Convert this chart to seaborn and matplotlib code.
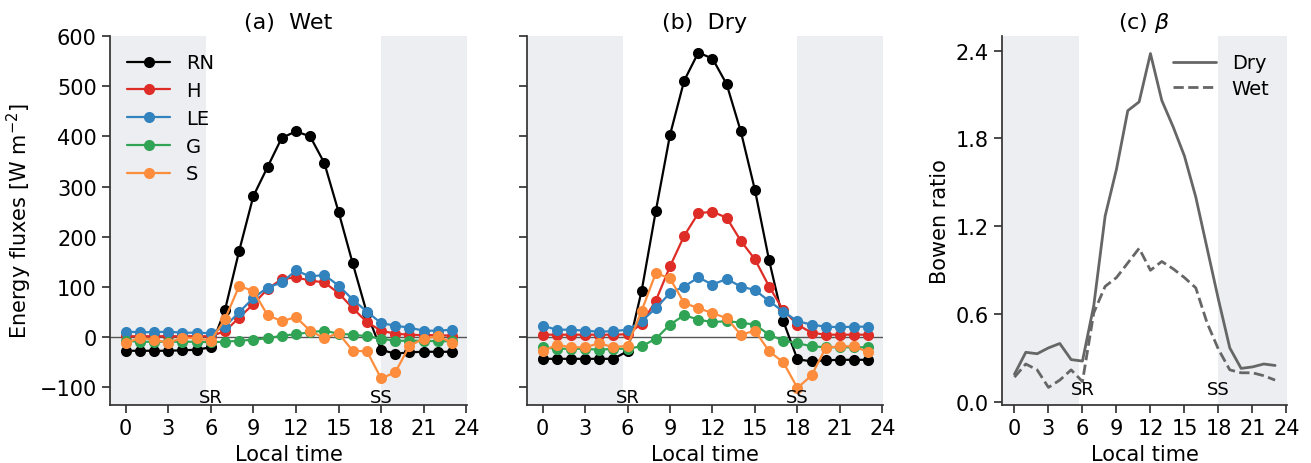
import matplotlib
matplotlib.use('Agg')
import matplotlib.pyplot as plt
import seaborn as sns
import numpy as np
import pandas as pd

# hourly data
hours = list(range(24))

wet_RN = [-27, -27, -27, -27, -26, -25, -20, 54, 172, 281, 339, 397, 410, 400, 347, 250, 147, 48, -25, -33, -30, -29, -29, -29]
wet_H = [2, 2, 2, 2, 2, 2, 2, 12, 39, 66, 96, 116, 119, 113, 109, 88, 58, 30, 13, 7, 5, 4, 4, 3]
wet_LE = [11, 10, 10, 11, 9, 9, 8, 21, 50, 78, 99, 109, 133, 121, 124, 103, 75, 51, 28, 23, 19, 13, 13, 15]
wet_G = [-7, -9, -9, -9, -9, -9, -10, -9, -7, -5, -2, 3, 6, 10, 13, 7, 5, 2, -3, -7, -7, -7, -8, -8]
wet_S = [-12, -1, -5, -11, -1, -2, -7, 36, 102, 92, 44, 32, 40, 13, -2, 8, -27, -28, -82, -70, -17, -3, 2, -11]

dry_RN = [-43, -43, -43, -43, -43, -43, -28, 93, 252, 403, 511, 567, 555, 504, 410, 293, 153, 32, -44, -48, -46, -45, -45, -45]
dry_H = [5, 5, 5, 5, 5, 5, 6, 27, 73, 141, 202, 247, 250, 238, 192, 155, 101, 54, 25, 9, 5, 5, 5, 5]
dry_LE = [23, 15, 15, 13, 11, 12, 15, 32, 58, 88, 101, 119, 105, 116, 101, 94, 72, 51, 32, 25, 21, 20, 21, 21]
dry_G = [-20, -23, -23, -23, -25, -23, -23, -18, -3, 25, 44, 35, 30, 32, 29, 25, 5, -7, -12, -18, -20, -20, -20, -20]
dry_S = [-28, -15, -20, -20, -12, -20, -17, 53, 128, 117, 68, 58, 48, 38, 5, 13, -28, -50, -101, -76, -21, -18, -18, -30]

bowen_dry = [0.19, 0.34, 0.33, 0.37, 0.40, 0.29, 0.28, 0.66, 1.27, 1.59, 1.99, 2.05, 2.38, 2.06, 1.88, 1.68, 1.40, 1.05, 0.70, 0.37, 0.23, 0.24, 0.26, 0.25]
bowen_wet = [0.17, 0.26, 0.22, 0.10, 0.15, 0.22, 0.14, 0.61, 0.79, 0.85, 0.95, 1.05, 0.90, 0.96, 0.91, 0.85, 0.78, 0.54, 0.36, 0.22, 0.20, 0.20, 0.18, 0.15]

flux_names = ['RN', 'H', 'LE', 'G', 'S']
flux_colors = ['black', '#de2d26', '#3182bd', '#31a354', '#fd8d3c']
sunrise, sunset = 5.67, 18.0

sns.set_theme(style='ticks')
plt.rcParams['font.family'] = ['DejaVu Sans']
plt.rcParams['mathtext.fontset'] = 'dejavusans'
plt.rcParams['axes.unicode_minus'] = True
# plain black text like the original
for key in ['text.color', 'axes.labelcolor', 'xtick.labelcolor', 'ytick.labelcolor']:
    plt.rcParams[key] = 'black'
plt.rcParams['axes.edgecolor'] = '#333333'
plt.rcParams['xtick.color'] = '#333333'
plt.rcParams['ytick.color'] = '#333333'
fs_label, fs_tick, fs_title, fs_leg = 15, 15, 16, 14


def long_df(series):
    rows = []
    for name, vals in zip(flux_names, series):
        for h, v in zip(hours, vals):
            rows.append({'hour': h, 'flux': v, 'var': name})
    return pd.DataFrame(rows)


def shade(ax):
    ax.axvspan(-2, sunrise, color='#eceef1', zorder=0, lw=0)
    ax.axvspan(sunset, 25, color='#eceef1', zorder=0, lw=0)


fig = plt.figure(figsize=(13.11, 4.64), dpi=100)
ax1 = fig.add_axes([0.0839, 0.125, 0.2723, 0.7953])
ax2 = fig.add_axes([0.402, 0.125, 0.2716, 0.7953], sharey=ax1)
ax3 = fig.add_axes([0.7643, 0.125, 0.2174, 0.7953])

for ax, series, title in [(ax1, [wet_RN, wet_H, wet_LE, wet_G, wet_S], '(a)  Wet'),
                          (ax2, [dry_RN, dry_H, dry_LE, dry_G, dry_S], '(b)  Dry')]:
    shade(ax)
    ax.axhline(0, color='#555555', lw=1, zorder=1)
    sns.lineplot(data=long_df(series), x='hour', y='flux', hue='var',
                 palette=dict(zip(flux_names, flux_colors)), marker='o',
                 markersize=8, markeredgewidth=0, lw=1.6, ax=ax, legend=(ax is ax1))
    ax.text(6, -129, 'SR', ha='center', va='baseline', fontsize=13)
    ax.text(18, -129, 'SS', ha='center', va='baseline', fontsize=13)
    ax.set_xlim(-1.1, 24.05)
    ax.set_xticks(range(0, 25, 3))
    ax.set_xlabel('Local time', fontsize=fs_label)
    ax.set_title(title, fontsize=fs_title)
    ax.tick_params(labelsize=fs_tick)

ax1.set_ylim(-135, 600)
ax1.set_yticks(range(-100, 601, 100))
ax1.set_ylabel('Energy fluxes [W m$^{-2}$]', fontsize=fs_label)
ax2.set_ylabel('')
ax2.tick_params(labelleft=False)
ax1.legend(frameon=False, fontsize=fs_leg, loc='upper left', handlelength=2.2,
           borderaxespad=0.5, labelspacing=0.45)

shade(ax3)
sns.lineplot(x=hours, y=bowen_dry, color='#666666', lw=2, ax=ax3, label='Dry')
sns.lineplot(x=hours, y=bowen_wet, color='#666666', lw=2, ls='--', ax=ax3, label='Wet')
ax3.text(6, 0.056, 'SR', ha='center', va='baseline', fontsize=13)
ax3.text(18, 0.056, 'SS', ha='center', va='baseline', fontsize=13)
ax3.set_xlim(-1.1, 24.05)
ax3.set_ylim(-0.02, 2.5)
ax3.set_xticks(range(0, 25, 3))
ax3.set_yticks(np.arange(0, 2.41, 0.6))
ax3.yaxis.set_major_formatter(matplotlib.ticker.FormatStrFormatter('%.1f'))
ax3.set_xlabel('Local time', fontsize=fs_label)
ax3.set_ylabel('Bowen ratio', fontsize=fs_label)
ax3.set_title('(c) $\\beta$', fontsize=fs_title)
ax3.tick_params(labelsize=fs_tick)
ax3.legend(frameon=False, fontsize=fs_leg, loc='upper right', handlelength=2.2,
           labelspacing=0.35)

for ax in (ax1, ax2, ax3):
    sns.despine(ax=ax)

fig.savefig('out.png', dpi=100)
